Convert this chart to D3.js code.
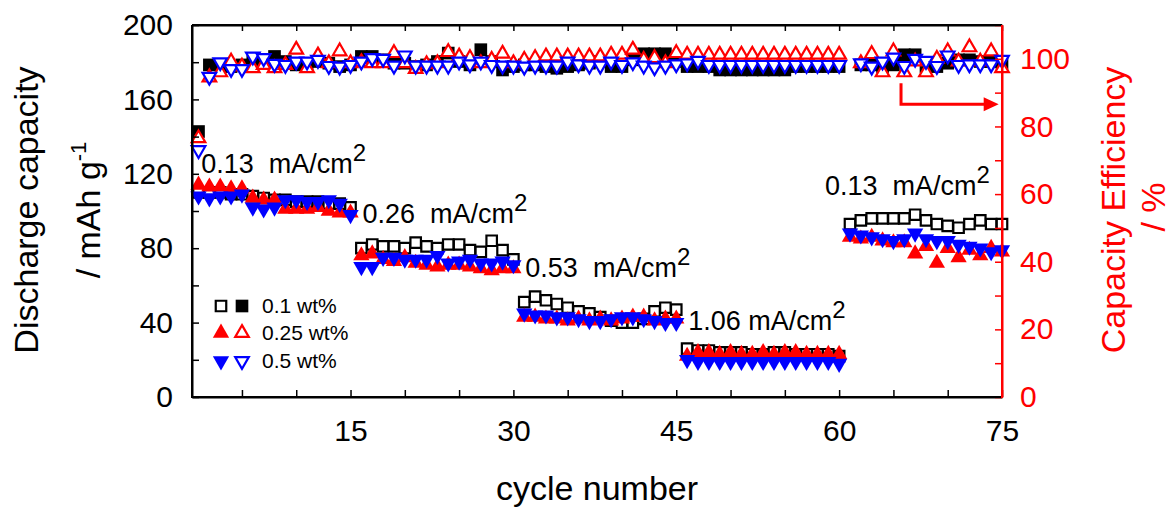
<!DOCTYPE html>
<html><head><meta charset="utf-8">
<script src="https://cdn.jsdelivr.net/npm/d3@7"></script>
<style>
body{margin:0;background:#fff;}
svg text{font-family:"Liberation Sans",Arial,sans-serif;}
</style>
</head><body>
<svg id="chart" width="1174" height="510"></svg>
<script>
// ---------- data ----------
const cycles = [1,2,3,4,5,6,7,8,9,10,11,12,13,14,15,16,17,18,19,20,21,22,23,24,25,26,27,28,29,30,
  31,32,33,34,35,36,37,38,39,40,41,42,43,44,45,46,47,48,49,50,51,52,53,54,55,56,57,58,59,60,
  61,62,63,64,65,66,67,68,69,70,71,72,73,74,75];

// discharge capacity (mAh g-1), left axis
const dischargeA = [110,110,110,109,109,108,107,106,106,105,105,105,104,104,102,
  80,82,81,81,80,83,81,80,82,82,79,78,84,79,74,
  51,54,52,50,48,46,45,43,41,40,40,42,46,48,47,
  26,25,25,24,24,24,23,23,24,24,23,23,23,23,22,
  93,95,96,96,96,96,98,95,93,92,91,93,95,93,93];
const dischargeB = [114,113,113,112,112,107,106,106,101,101,101,102,100,99,99,
  76,77,74,73,75,72,71,70,71,71,70,69,68,69,69,
  43,43,42,42,41,42,41,42,41,42,43,43,41,42,42,
  22,24,24,23,24,23,23,24,23,24,24,23,23,23,23,
  86,85,86,84,83,83,77,81,72,80,75,79,76,80,78];
const dischargeC = [108,107,108,108,109,102,101,102,106,106,105,105,106,104,98,
  70,70,75,75,74,74,74,76,72,73,74,72,72,73,71,
  45,44,44,43,43,42,41,41,42,43,43,42,41,40,40,
  20,19,19,19,19,19,19,19,19,19,19,19,19,19,18,
  88,87,86,85,84,85,88,85,84,84,82,81,80,78,79];

// capacity efficiency (%), right axis
const effA = [78.5,98.2,98.2,97.7,98.2,99.2,99.7,100.7,99.2,98.2,97.7,99.2,98.7,97.7,98.2,
  100.7,100.7,99.7,98.7,98.7,97.7,98.2,99.2,101.7,99.2,98.2,102.7,99.2,96.7,97.7,
  98.2,98.2,97.7,97.2,97.7,98.2,98.7,99.2,97.7,97.7,99.7,101.5,101.5,101.5,99.2,
  97.7,97.7,97.7,96.7,96.7,96.7,96.7,96.7,96.7,96.7,97.7,97.7,97.7,97.7,97.7,
  null,98.2,98.2,97.7,98.2,101.2,101.2,97.7,97.7,98.7,99.7,99.7,99.2,99.2,98.7];
const effB = [76.5,94.5,96,99.2,97.7,97.2,98.2,97.2,98.2,102.7,97.2,101,98.7,102.2,98.7,
  99,98.7,98.7,101.7,98.7,97,98.4,98.7,102,100.7,100.2,98.7,99.7,101.5,98.7,
  99.7,100.2,100.7,100.7,100.7,100.7,100.7,100.7,101.2,101.2,102.7,99.7,100.2,98.7,101.7,
  101.2,101.2,101.2,101.2,101.2,101.2,101.2,101.2,101.2,101.2,101.2,101.2,101.2,101.2,101.2,
  null,98.7,101.4,96,102.2,96,99.2,96,100,102.2,99.2,103.4,99.2,102.2,97.2];
const effC = [73,94.7,99,97,97,100.7,100.2,98.5,98.2,99.2,99.2,99.7,97.9,97.7,98.2,
  99.2,100.2,100,98,101,98,98,98,98,99.2,98.4,99.2,98.2,98,98,
  97.7,98,98,98,99.2,98.4,98,98,99.2,98.2,99,98,97.5,98,98.4,
  98.7,99.4,98.2,98.2,98.2,98.2,98.2,98.2,98.2,98.2,98.2,98.2,98.2,98.2,98.2,
  null,98.7,97.7,99.2,100.4,97.9,100,99.4,97.9,101,98.2,98.4,98.4,98.4,99.7];

const xTickLabels = [15,30,45,60,75];
const leftTickLabels = [0,40,80,120,160,200];
const rightTickLabels = [0,20,40,60,80,100];
const seriesNames = ["0.1 wt%","0.25 wt%","0.5 wt%"];
const rateLabels = [
  {cycle:1.25, value:120.5, num:"0.13", gap:"  "},
  {cycle:16.1, value:93.4, num:"0.26", gap:"  "},
  {cycle:31.1, value:64.7, num:"0.53", gap:"  "},
  {cycle:46.1, value:36,   num:"1.06", gap:" "},
  {cycle:58.7, value:108.6,num:"0.13", gap:"  "}
];

// ---------- layout ----------
const L = 192, R = 1002, T = 25, B = 397;
const svg = d3.select("#chart");
const x = d3.scaleLinear().domain([0.4, 75]).range([L, R]);
const yL = d3.scaleLinear().domain([0, 200]).range([B, T]);
const yR = d3.scaleLinear().domain([0, 110]).range([B, T]);
const RED = "#ff0000", BLUE = "#0000ff";
const SW = 2.2;

const sqFilled = d3.symbol(d3.symbolSquare, 160)();
const sqOpen = d3.symbol(d3.symbolSquare, 110)();
const triFilled = d3.symbol(d3.symbolTriangle, 115)();
const triOpen = d3.symbol(d3.symbolTriangle, 80)();

function drawSeries(vals, yScale, path, fill, stroke, rot) {
  svg.append("g").selectAll("path")
    .data(cycles.map((c, i) => [c, vals[i]]).filter(d => d[1] != null))
    .join("path")
    .attr("d", path)
    .attr("transform", d => `translate(${x(d[0])},${yScale(d[1])})${rot ? " rotate(180)" : ""}`)
    .attr("fill", fill)
    .attr("stroke", stroke)
    .attr("stroke-width", stroke === "none" ? 0 : SW);
}

// efficiency (right axis)
drawSeries(effA, yR, sqFilled, "#000", "none", false);
drawSeries(effB, yR, triOpen, "#fff", RED, false);
drawSeries(effC, yR, triOpen, "#fff", BLUE, true);
// discharge (left axis)
drawSeries(dischargeA, yL, sqOpen, "#fff", "#000", false);
drawSeries(dischargeB, yL, triFilled, RED, "none", false);
drawSeries(dischargeC, yL, triFilled, BLUE, "none", true);

// ---------- axes ----------
const fs = 30;
const gl = svg.append("g").attr("transform", `translate(${L},0)`)
  .call(d3.axisLeft(yL).tickValues(d3.range(0, 201, 20)).tickSizeInner(-7).tickSizeOuter(0).tickPadding(19)
    .tickFormat(d => leftTickLabels.includes(d) ? d : ""));
gl.selectAll("text").attr("font-size", fs).attr("fill", "#000");
const gb = svg.append("g").attr("transform", `translate(0,${B})`)
  .call(d3.axisBottom(x).tickValues(d3.range(5, 76, 5)).tickSizeInner(-7).tickSizeOuter(0).tickPadding(23)
    .tickFormat(d => xTickLabels.includes(d) ? d : ""));
gb.selectAll("text").attr("font-size", fs).attr("fill", "#000");
const gt = svg.append("g").attr("transform", `translate(0,${T})`)
  .call(d3.axisTop(x).tickValues(d3.range(5, 76, 5)).tickSizeInner(-6).tickSizeOuter(0).tickFormat(""));
const gr = svg.append("g").attr("transform", `translate(${R},0)`)
  .call(d3.axisRight(yR).tickValues(d3.range(0, 111, 10)).tickSizeInner(-7).tickSizeOuter(0).tickPadding(18)
    .tickFormat(d => rightTickLabels.includes(d) ? d : ""));
gr.selectAll("text").attr("font-size", fs).attr("fill", RED);
gr.selectAll("line").attr("stroke", RED);
gr.select(".domain").attr("stroke", RED);
[gl, gb, gt, gr].forEach(g => {
  g.selectAll(".domain").attr("stroke-width", 2);
  g.selectAll("line").attr("stroke-width", 1.5);
});
svg.append("line").attr("x1", L).attr("x2", R).attr("y1", T).attr("y2", T).attr("stroke", "#000").attr("stroke-width", 2);
svg.append("line").attr("x1", L).attr("x2", L).attr("y1", T).attr("y2", B + 1).attr("stroke", "#000").attr("stroke-width", 2);
svg.append("line").attr("x1", L).attr("x2", R).attr("y1", B).attr("y2", B).attr("stroke", "#000").attr("stroke-width", 2);
svg.append("line").attr("x1", R).attr("x2", R).attr("y1", T).attr("y2", B + 1).attr("stroke", RED).attr("stroke-width", 2);

// ---------- titles ----------
const tfs = 34;
svg.append("text").attr("transform", "translate(38,210) rotate(-90)").attr("text-anchor", "middle")
  .attr("font-size", tfs).text("Discharge capacity");
const t2 = svg.append("text").attr("transform", "translate(100,210) rotate(-90)").attr("text-anchor", "middle")
  .attr("font-size", tfs);
t2.append("tspan").text("/ mAh g");
t2.append("tspan").attr("font-size", 22).attr("dy", -14).text("-1");
svg.append("text").attr("transform", "translate(1125,210) rotate(-90)").attr("text-anchor", "middle")
  .attr("font-size", tfs).attr("fill", RED).text("Capacity Efficiency");
svg.append("text").attr("transform", "translate(1165,207) rotate(-90)").attr("text-anchor", "middle")
  .attr("font-size", tfs).attr("fill", RED).text("/ %");
svg.append("text").attr("x", 597).attr("y", 500).attr("text-anchor", "middle")
  .attr("font-size", tfs).text("cycle number");

// ---------- rate annotations ----------
rateLabels.forEach(r => {
  const t = svg.append("text").attr("x", x(r.cycle)).attr("y", yL(r.value))
    .attr("font-size", 27).style("white-space", "pre");
  t.append("tspan").text(r.num + r.gap + "mA/cm");
  t.append("tspan").attr("font-size", 24).attr("dy", -12).text("2");
});

// ---------- arrow ----------
const ax0 = x(65.7), ay0 = yR(92.8), ay1 = yR(86.6), ax1 = x(74.6);
svg.append("path").attr("d", `M${ax0},${ay0}V${ay1}H${ax1 - 12}`)
  .attr("fill", "none").attr("stroke", RED).attr("stroke-width", 3);
svg.append("path").attr("d", `M${ax1 - 14},${ay1 - 7}L${ax1 + 1},${ay1}L${ax1 - 14},${ay1 + 7}Z`).attr("fill", RED);

// ---------- legend ----------
const legendRows = [
  {y: 306, a: {p: sqOpen, fill: "#fff", stroke: "#000", rot: false}, b: {p: sqFilled, fill: "#000", stroke: "none", rot: false}},
  {y: 333, a: {p: triFilled, fill: RED, stroke: "none", rot: false}, b: {p: triOpen, fill: "#fff", stroke: RED, rot: false}},
  {y: 361, a: {p: triFilled, fill: BLUE, stroke: "none", rot: true}, b: {p: triOpen, fill: "#fff", stroke: BLUE, rot: true}}
];
legendRows.forEach((row, i) => {
  [[221, row.a], [242, row.b]].forEach(([lx, m]) => {
    svg.append("path").attr("d", m.p)
      .attr("transform", `translate(${lx},${row.y})${m.rot ? " rotate(180)" : ""}`)
      .attr("fill", m.fill).attr("stroke", m.stroke).attr("stroke-width", m.stroke === "none" ? 0 : SW);
  });
  svg.append("text").attr("x", 262).attr("y", row.y + 7).attr("font-size", 21).text(seriesNames[i]);
});
</script>
</body></html>
